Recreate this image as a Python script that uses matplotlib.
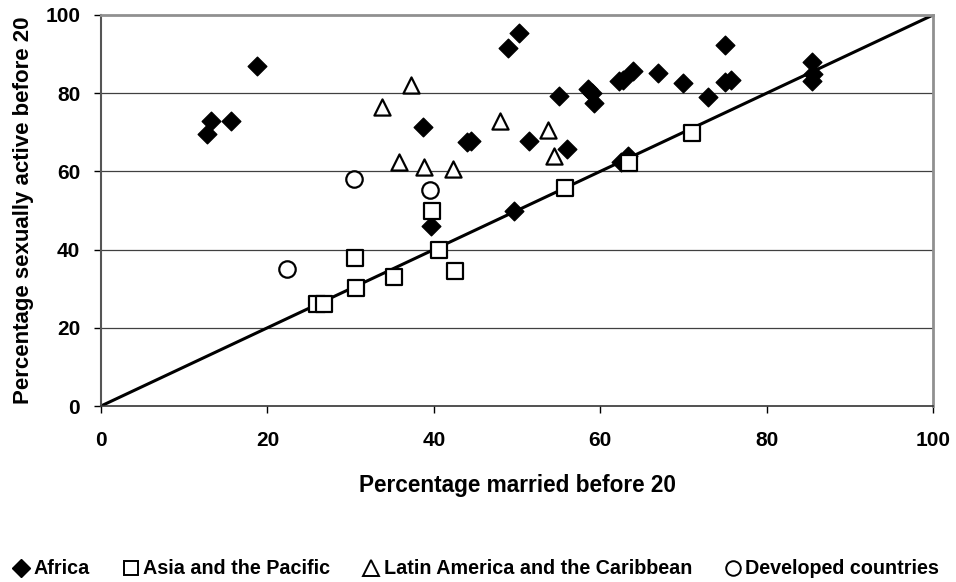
import matplotlib.pyplot as plt
from matplotlib.lines import Line2D

plt.rcParams['font.family'] = ['Liberation Sans', 'DejaVu Sans']
plt.rcParams['font.weight'] = 'bold'

# Africa
africa_x = [12.8, 13.2, 15.6, 18.8, 38.7, 39.7, 44.0, 44.5, 48.9, 50.3, 49.6,
            51.5, 55.0, 56.0, 58.5, 59.0, 59.2, 62.3, 62.8, 62.5, 63.3, 64.0,
            66.9, 70.0, 73.0, 75.0, 75.0, 75.7, 85.5, 85.6, 85.4]
africa_y = [69.5, 73.0, 72.8, 87.0, 71.3, 46.0, 67.6, 67.8, 91.5, 95.3, 50.0,
            67.8, 79.3, 65.7, 81.0, 80.0, 77.4, 83.0, 83.3, 62.5, 64.0, 85.7,
            85.1, 82.5, 79.0, 92.3, 82.8, 83.3, 88.0, 85.0, 83.2]

# Asia and the Pacific
asia_x = [26.0, 26.8, 30.5, 30.6, 35.2, 39.8, 40.6, 42.5, 55.8, 63.5, 71.0]
asia_y = [26.0, 26.0, 37.8, 30.3, 33.0, 50.0, 39.8, 34.6, 55.8, 62.2, 69.8]

# Latin America and the Caribbean
latam_x = [33.8, 37.2, 35.8, 38.8, 42.3, 48.0, 53.7, 54.4]
latam_y = [76.5, 82.0, 62.5, 61.2, 60.5, 73.0, 70.7, 64.0]

# Developed countries
dev_x = [22.3, 30.4, 39.5]
dev_y = [35.0, 58.0, 55.2]

fig = plt.figure(figsize=(9.56, 5.82), dpi=100)
ax = fig.add_axes([101/956, 1 - 406/582, 832/956, 391/582])

for g in [20, 40, 60, 80]:
    ax.axhline(g, color='#404040', lw=0.9, zorder=0)

ax.plot([0, 100], [0, 100], color='black', lw=2.2, zorder=2)

ax.scatter(africa_x, africa_y, marker='D', s=90, c='black', zorder=3)
ax.scatter(asia_x, asia_y, marker='s', s=135, facecolors='white',
           edgecolors='black', linewidths=1.6, zorder=3)
ax.scatter(latam_x, latam_y, marker='^', s=135, facecolors='white',
           edgecolors='black', linewidths=1.6, zorder=3)
ax.scatter(dev_x, dev_y, marker='o', s=140, facecolors='white',
           edgecolors='black', linewidths=1.6, zorder=3)

ax.set_xlim(0, 100)
ax.set_ylim(0, 100)
ax.set_xticks([0, 20, 40, 60, 80, 100])
ax.set_yticks([0, 20, 40, 60, 80, 100])
ax.tick_params(labelsize=15, length=5, width=1, direction='out')
ax.tick_params(axis='x', pad=13)
ax.tick_params(axis='y', pad=10)
ax.spines['left'].set_color('#555555')
ax.spines['left'].set_linewidth(1.5)
ax.spines['bottom'].set_color('#333333')
ax.spines['bottom'].set_linewidth(1.2)
ax.spines['top'].set_color('#909090')
ax.spines['top'].set_linewidth(2)
ax.spines['right'].set_color('#909090')
ax.spines['right'].set_linewidth(2)

ax.set_xlabel('Percentage married before 20', fontsize=16.3, fontweight='bold', labelpad=17)
ax.set_ylabel('Percentage sexually active before 20', fontsize=16, fontweight='bold', labelpad=8)

handles = [
    Line2D([], [], marker='D', color='black', ls='none', markersize=9),
    Line2D([], [], marker='s', mfc='white', mec='black', ls='none', markersize=10.5, mew=1.4),
    Line2D([], [], marker='^', mfc='white', mec='black', ls='none', markersize=11.5, mew=1.4),
    Line2D([], [], marker='o', mfc='white', mec='black', ls='none', markersize=10.5, mew=1.4),
]
labels = ['Africa', 'Asia and the Pacific', 'Latin America and the Caribbean',
          'Developed countries']
fig.legend(handles, labels, loc='center left', bbox_to_anchor=(13/956, 1 - 569/582),
           ncol=4, frameon=False, handletextpad=0.2, borderpad=0, borderaxespad=0,
           columnspacing=1.65, handlelength=0.85, prop={'weight': 'bold', 'size': 14.2})

fig.savefig('out.png', dpi=100)
